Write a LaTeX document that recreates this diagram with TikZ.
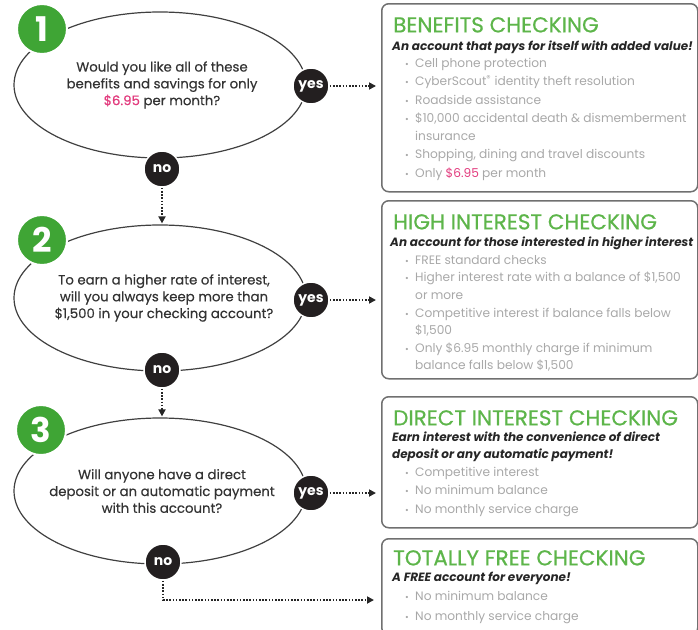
\documentclass[tikz,border=0pt]{standalone}
\usepackage{fontspec}
\setmainfont{Poppins}
\newfontfamily\headfont{Poppins}[FakeBold=0.6]
\newfontfamily\askfont{Poppins}[FakeBold=0.4]
\usetikzlibrary{positioning,shapes.geometric,arrows.meta}
\definecolor{flowgreen}{HTML}{3FA535}
\definecolor{headgreen}{HTML}{5DB54A}
\definecolor{pricepink}{HTML}{E23C7E}
\definecolor{darkdot}{HTML}{231F20}
\definecolor{itemgray}{HTML}{A8A8A8}
\definecolor{boxgray}{HTML}{707070}
\newcommand{\bul}{\makebox[10pt][l]{\fontsize{9}{9}\selectfont\textbullet}}
\newcommand{\cont}{\hspace*{10pt}}

\begin{document}
\begin{tikzpicture}[x=1pt, y=1pt,
  question/.style={draw=black!75, line width=1.2pt, ellipse, minimum width=292pt, minimum height=146pt},
  asktext/.style={align=center, inner sep=0pt, text=black!80, font=\askfont\fontsize{13.3}{16.8}\selectfont},
  stepnum/.style={circle, fill=flowgreen, draw=white, line width=2pt, minimum size=50pt, inner sep=0pt, text=white, font=\fontsize{34}{34}\selectfont\bfseries},
  answer/.style={circle, fill=darkdot, draw=white, line width=1.5pt, minimum size=36pt, inner sep=0pt, text=white, font=\fontsize{14}{14}\selectfont\bfseries},
  acctbox/.style={draw=boxgray, line width=1.5pt, rounded corners=7pt, minimum width=316pt, anchor=north west},
  acctname/.style={anchor=north west, inner sep=0pt, text=headgreen, font=\headfont\fontsize{21.5}{21.5}\selectfont},
  acctsub/.style={anchor=north west, inner sep=0pt, align=left, text=black!85, font=\fontsize{12}{17}\selectfont\bfseries\itshape},
  perks/.style={anchor=north west, inner sep=0pt, align=left, text=itemgray, font=\fontsize{12.2}{18.3}\selectfont},
  flow/.style={dash pattern=on 1.6pt off 1.6pt, line width=1.7pt, -{Triangle[length=7pt,width=7pt]}, black!85}
]
\useasboundingbox (0,0) rectangle (698,-629);

% questions on the left
\node[question] (q1) at (160,-85) {};
\node[question] (q2) at (160,-298) {};
\node[question] (q3) at (160,-491) {};
\node[asktext] (qt1) at ([xshift=2pt]q1.center) {Would you like all of these\\benefits and savings for only\\\textcolor{pricepink}{\$6.95} per month?};
\node[asktext] (qt2) at ([xshift=4pt]q2.center) {To earn a higher rate of interest,\\will you always keep more than\\\$1,500 in your checking account?};
\node[asktext] (qt3) at ([xshift=2pt]q3.center) {Will anyone have a direct\\deposit or an automatic payment\\with this account?};

\node[stepnum] (n1) at (42,-29) {1};
\node[stepnum] (n2) at (42,-240) {2};
\node[stepnum] (n3) at (41,-430) {3};

\node[answer] (yes1) at (311,-86) {yes};
\node[answer] (yes2) at (311,-300) {yes};
\node[answer] (yes3) at (311,-493) {yes};
\node[answer] (no1) at (162,-169) {no};
\node[answer] (no2) at (162,-370) {no};
\node[answer] (no3) at (163,-562) {no};

% account boxes on the right
\node[acctbox, minimum height=188pt] (b1) at (381,-3) {};
\node[acctbox, minimum height=178pt] (b2) at (381,-200) {};
\node[acctbox, minimum height=131pt] (b3) at (381,-396) {};
\node[acctbox, minimum height=96pt] (b4) at (381,-538) {};

\node[acctname] (h1) at ([shift={(12pt,-14pt)}]b1.north west) {BENEFITS CHECKING};
\node[acctsub, below=8pt of h1.south west, anchor=north west, xshift=-1pt] (s1) {An account that pays for itself with added value!};
\node[perks, below=4pt of s1.south west, anchor=north west, xshift=13pt] (p1) {\bul Cell phone protection\\
  \bul CyberScout\textsuperscript{\textregistered} identity theft resolution\\
  \bul Roadside assistance\\
  \bul \$10,000 accidental death \& dismemberment\\
  \cont insurance\\
  \bul Shopping, dining and travel discounts\\
  \bul Only \textcolor{pricepink}{\$6.95} per month};

\node[acctname] (h2) at ([shift={(12pt,-14pt)}]b2.north west) {HIGH INTEREST CHECKING};
\node[acctsub, below=7pt of h2.south west, anchor=north west, xshift=-3pt] (s2) {An account for those interested in higher interest};
\node[perks, below=5pt of s2.south west, anchor=north west, xshift=15pt, font=\fontsize{12.2}{17.6}\selectfont] (p2) {\bul FREE standard checks\\
  \bul Higher interest rate with a balance of \$1,500\\
  \cont or more\\
  \bul Competitive interest if balance falls below\\
  \cont \$1,500\\
  \bul Only \$6.95 monthly charge if minimum\\
  \cont balance falls below \$1,500};

\node[acctname] (h3) at ([shift={(12pt,-14pt)}]b3.north west) {DIRECT INTEREST CHECKING};
\node[acctsub, below=6pt of h3.south west, anchor=north west, xshift=-1pt] (s3) {Earn interest with the convenience of direct\\deposit or any automatic payment!};
\node[perks, below=5pt of s3.south west, anchor=north west, xshift=13pt] (p3) {\bul Competitive interest\\
  \bul No minimum balance\\
  \bul No monthly service charge};

\node[acctname] (h4) at ([shift={(12pt,-12pt)}]b4.north west) {TOTALLY FREE CHECKING};
\node[acctsub, below=6pt of h4.south west, anchor=north west, xshift=-1pt] (s4) {A FREE account for everyone!};
\node[perks, below=6pt of s4.south west, anchor=north west, xshift=13pt, font=\fontsize{12.2}{20}\selectfont] (p4) {\bul No minimum balance\\
  \bul No monthly service charge};

% dotted connectors
\draw[flow, shorten >=5pt] (yes1) -- (yes1 -| b1.west);
\draw[flow, shorten >=5pt] (yes2) -- (yes2 -| b2.west);
\draw[flow, shorten >=5pt] (yes3) -- (yes3 -| b3.west);
\draw[flow, shorten >=1pt] (no1) -- (no1 |- q2.north);
\draw[flow, shorten >=1pt] (no2) -- (no2 |- q3.north);
\coordinate (free4) at (374,-600);
\draw[flow] (no3) |- (free4);
\end{tikzpicture}
\end{document}
